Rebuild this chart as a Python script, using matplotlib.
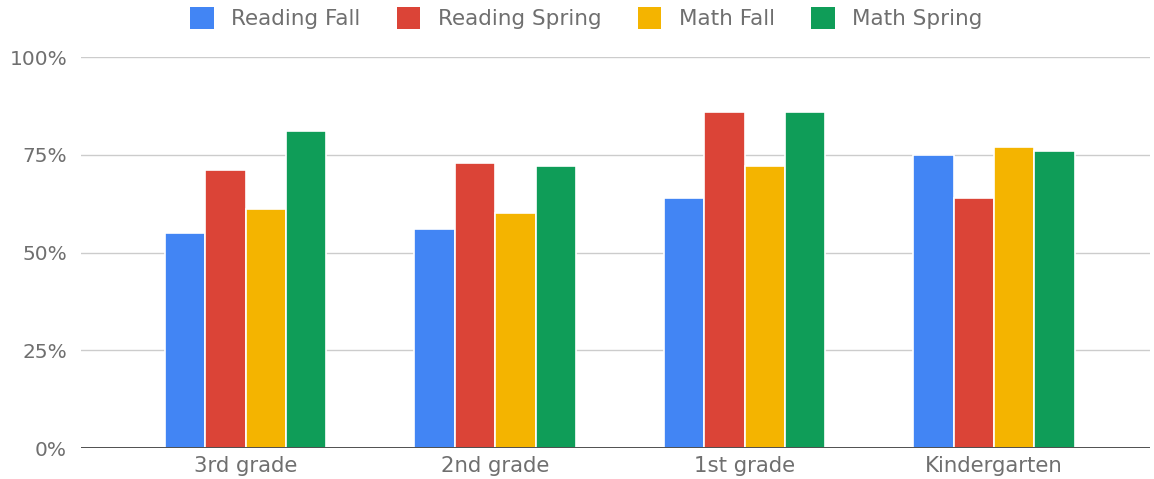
import matplotlib
matplotlib.use("Agg")
import matplotlib.pyplot as plt
import numpy as np
from matplotlib.ticker import FuncFormatter

categories = ["3rd grade", "2nd grade", "1st grade", "Kindergarten"]
series_names = ["Reading Fall", "Reading Spring", "Math Fall", "Math Spring"]
reading_fall = [55, 56, 64, 75]
reading_spring = [71, 73, 86, 64]
math_fall = [61, 60, 72, 77]
math_spring = [81, 72, 86, 76]
colors = ["#4285F4", "#DB4437", "#F4B400", "#0F9D58"]
yticks = [0, 25, 50, 75, 100]

plt.rcParams['font.family'] = ['DejaVu Sans']
fig = plt.figure(figsize=(11.54, 4.79), dpi=100)
ax = fig.add_axes([0.0702, 0.0647, 0.9263, 0.8163])

x = np.arange(len(categories))
slot = 0.162
series = [reading_fall, reading_spring, math_fall, math_spring]
for i, (vals, name, c) in enumerate(zip(series, series_names, colors)):
    ax.bar(x + (i - 1.5) * slot, vals, width=slot, color=c, label=name,
           edgecolor="white", linewidth=1.2, zorder=3)

ax.set_xlim(-0.66, 3.625)
ax.set_ylim(0, 100)
ax.set_yticks(yticks)
ax.yaxis.set_major_formatter(FuncFormatter(lambda v, p: f"{int(v)}%"))
ax.set_xticks(x)
ax.set_xticklabels(categories)
ax.grid(axis="y", color="#cccccc", linewidth=1, zorder=0)
ax.axhline(0, color="#333333", linewidth=1.2, zorder=4)
for s in ax.spines.values():
    s.set_visible(False)
ax.tick_params(axis="y", length=0, labelsize=14.5, colors="#6f6f6f", pad=10)
ax.tick_params(axis="x", length=0, labelsize=15.3, colors="#6f6f6f", pad=6)

leg = fig.legend(loc="upper center", bbox_to_anchor=(0.508, 1.025), ncol=4, frameon=False,
                 fontsize=15.5, labelcolor="#6f6f6f", handlelength=1.1, handleheight=1.15,
                 columnspacing=1.7, handletextpad=0.8)
for h in leg.legend_handles:
    h.set_edgecolor("none")

fig.savefig("out.png", dpi=100, facecolor="white")
